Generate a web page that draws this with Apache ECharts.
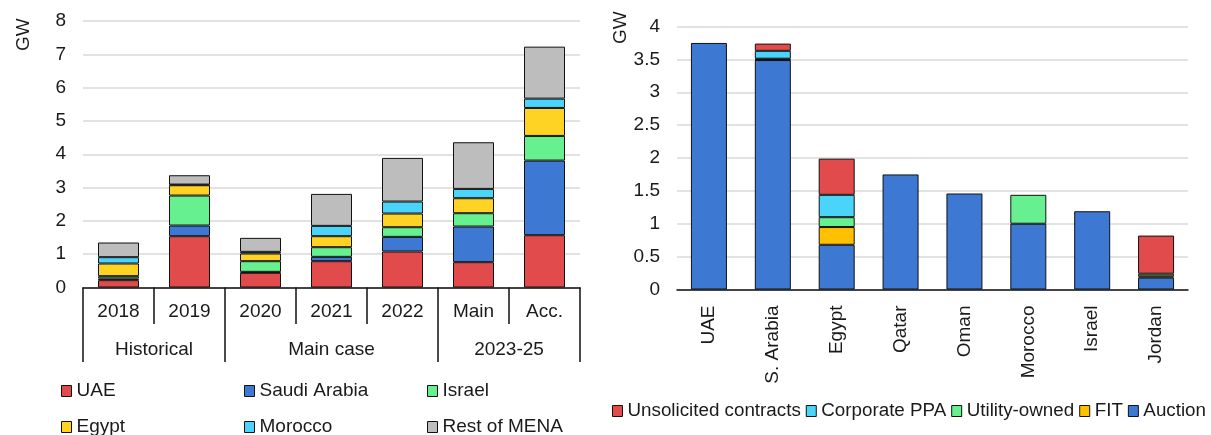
<!DOCTYPE html>
<html lang="en">
<head>
  <meta charset="utf-8">
  <title>MENA renewables</title>
  <script src="https://cdn.jsdelivr.net/npm/echarts@6/dist/echarts.min.js"></script>
  <style>
    html, body { margin: 0; padding: 0; background: #fff; }
    #chart { width: 1211px; height: 435px; }
  </style>
</head>
<body>
  <div id="chart"></div>
  <script>
    // left chart: additions by country
    var years = ['2018', '2019', '2020', '2021', '2022', 'Main', 'Acc.'];
    var groups = ['', '', 'Historical', '', '', '', '', 'Main case', '', '', '', '', '2023-25', '', ''];
    var uae = [0.22, 1.54, 0.44, 0.79, 1.08, 0.76, 1.57];
    var saudi = [0.05, 0.32, 0.03, 0.13, 0.44, 1.07, 2.24];
    var israel = [0.07, 0.90, 0.32, 0.29, 0.29, 0.40, 0.74];
    var egypt = [0.38, 0.31, 0.23, 0.33, 0.41, 0.45, 0.84];
    var morocco = [0.19, 0.02, 0.05, 0.31, 0.36, 0.28, 0.28];
    var restMena = [0.44, 0.28, 0.42, 0.96, 1.31, 1.40, 1.56];

    // right chart: by procurement type
    var countries = ['UAE', 'S. Arabia', 'Egypt', 'Qatar', 'Oman', 'Morocco', 'Israel', 'Jordan'];
    var auction = [3.75, 3.49, 0.68, 1.75, 1.46, 1.00, 1.19, 0.18];
    var fit = [null, 0.01, 0.27, null, null, null, null, 0.02];
    var utility = [null, 0.01, 0.15, null, null, 0.44, null, 0.04];
    var corpPpa = [null, 0.12, 0.34, null, null, null, null, null];
    var unsolicited = [null, 0.11, 0.55, null, null, null, null, 0.58];

    var font = 'Liberation Sans, Arial, sans-serif';
    var txt = { color: '#1a1a1a', fontSize: 19, fontFamily: font };

    function bar(name, data, color, xi, yi, stack, w) {
      return {
        name: name, type: 'bar', stack: stack, data: data,
        xAxisIndex: xi, yAxisIndex: yi, barWidth: w,
        itemStyle: { color: color, borderColor: '#111', borderWidth: 1 }
      };
    }

    var chart = echarts.init(document.getElementById('chart'));
    // narrow horizontal legends so that every item wraps onto its own row
    var legendBase = {
      orient: 'horizontal', width: 20, top: 380, padding: 0,
      itemWidth: 10, itemHeight: 11, itemGap: 14,
      icon: 'rect', textStyle: Object.assign({ lineHeight: 22 }, txt),
      itemStyle: { borderColor: '#111', borderWidth: 1 }
    };
    chart.setOption({
      animation: false,
      grid: [
        { left: 83, right: 631, top: 21, bottom: 147.5 },
        { left: 677, right: 23, top: 26.5, bottom: 145.5 }
      ],
      xAxis: [
        {
          type: 'category', gridIndex: 0, data: years,
          axisLine: { lineStyle: { color: '#111', width: 1.5 } },
          axisTick: { show: true, interval: 0, length: 36.5, lineStyle: { color: '#111', width: 1.5 } },
          axisLabel: Object.assign({ interval: 0, margin: 15 }, txt)
        },
        {
          type: 'category', gridIndex: 0, data: groups, boundaryGap: false, position: 'bottom',
          axisLine: { show: false },
          axisTick: {
            show: true, length: 74.5, lineStyle: { color: '#111', width: 1.5 },
            interval: function (i) { return i === 0 || i === 4 || i === 10 || i === 14; }
          },
          axisLabel: Object.assign({
            margin: 53,
            interval: function (i) { return i === 2 || i === 7 || i === 12; }
          }, txt)
        },
        {
          type: 'category', gridIndex: 1, data: countries,
          axisLine: { lineStyle: { color: '#111', width: 1.5 } },
          axisTick: { show: false },
          axisLabel: Object.assign({ interval: 0, rotate: 90, margin: 16 }, txt)
        }
      ],
      yAxis: [
        {
          type: 'value', gridIndex: 0, min: 0, max: 8, interval: 1,
          axisLine: { show: false }, axisTick: { show: false },
          axisLabel: Object.assign({ margin: 17 }, txt),
          splitLine: { lineStyle: { color: '#d9d9d9', width: 1.5 } }
        },
        {
          type: 'value', gridIndex: 1, min: 0, max: 4, interval: 0.5,
          axisLine: { show: false }, axisTick: { show: false },
          axisLabel: Object.assign({ margin: 17 }, txt),
          splitLine: { lineStyle: { color: '#d9d9d9', width: 1.5 } }
        }
      ],
      graphic: [
        { type: 'text', x: 14, y: 51, rotation: Math.PI / 2,
          style: { text: 'GW', fill: '#1a1a1a', font: '19px ' + font } },
        { type: 'text', x: 611, y: 44, rotation: Math.PI / 2,
          style: { text: 'GW', fill: '#1a1a1a', font: '19px ' + font } }
      ],
      legend: [
        Object.assign({ left: 61, data: ['UAE', 'Egypt'] }, legendBase),
        Object.assign({ left: 244, data: ['Saudi Arabia', 'Morocco'] }, legendBase),
        Object.assign({ left: 427, data: ['Israel', 'Rest of MENA'] }, legendBase),
        {
          left: 612, top: 400, padding: 0, width: 599,
          itemWidth: 10, itemHeight: 11, itemGap: 5, icon: 'rect',
          textStyle: Object.assign({}, txt, { fontSize: 18.8, lineHeight: 22 }),
          itemStyle: { borderColor: '#111', borderWidth: 1 },
          data: ['Unsolicited contracts', 'Corporate PPA', 'Utility-owned', 'FIT', 'Auction']
        }
      ],
      series: [
        bar('UAE', uae, '#e24b4b', 0, 0, 'a', 41),
        bar('Saudi Arabia', saudi, '#3d78d3', 0, 0, 'a', 41),
        bar('Israel', israel, '#66f08f', 0, 0, 'a', 41),
        bar('Egypt', egypt, '#ffd324', 0, 0, 'a', 41),
        bar('Morocco', morocco, '#4bd4fa', 0, 0, 'a', 41),
        bar('Rest of MENA', restMena, '#bdbdbd', 0, 0, 'a', 41),
        bar('Auction', auction, '#3d78d3', 2, 1, 'b', 36),
        bar('FIT', fit, '#ffc000', 2, 1, 'b', 36),
        bar('Utility-owned', utility, '#66f08f', 2, 1, 'b', 36),
        bar('Corporate PPA', corpPpa, '#4bd4fa', 2, 1, 'b', 36),
        bar('Unsolicited contracts', unsolicited, '#e24b4b', 2, 1, 'b', 36)
      ]
    });
  </script>
</body>
</html>
